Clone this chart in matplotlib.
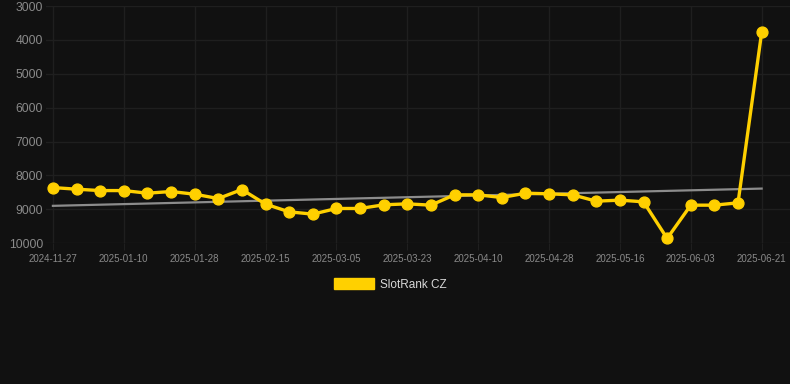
import numpy as np
import matplotlib
matplotlib.use("Agg")
import matplotlib.pyplot as plt

plt.rcParams["font.family"] = ["Liberation Sans", "DejaVu Sans"]

# weekly-ish snapshots (only every 3rd label is shown on the axis)
dates = ["2024-11-27", "2024-12-29", "2025-01-04", "2025-01-10", "2025-01-16",
         "2025-01-22", "2025-01-28", "2025-02-03", "2025-02-09", "2025-02-15",
         "2025-02-21", "2025-02-27", "2025-03-05", "2025-03-11", "2025-03-17",
         "2025-03-23", "2025-03-29", "2025-04-04", "2025-04-10", "2025-04-16",
         "2025-04-22", "2025-04-28", "2025-05-04", "2025-05-10", "2025-05-16",
         "2025-05-22", "2025-05-28", "2025-06-03", "2025-06-09", "2025-06-15",
         "2025-06-21"]
ranks = [8360, 8408, 8449, 8449, 8526, 8477, 8556, 8684, 8418, 8850,
         9077, 9145, 8978, 8978, 8870, 8841, 8880, 8575, 8575, 8654,
         8526, 8545, 8575, 8762, 8732, 8781, 9863, 8880, 8880, 8811,
         3777]
trend_ends = [8900, 8390]   # grey trend line, first and last date
series_name = "SlotRank CZ"

bg = "#111111"
grid_c = "#1f1f1f"
txt_c = "#8a8a8a"
yellow = "#ffd000"

fig = plt.figure(figsize=(7.9, 3.84), dpi=100, facecolor=bg)
ax = fig.add_axes([0.058, 0.367, 0.942, 0.617], facecolor=bg)

x = np.arange(len(ranks))
ax.plot(x, ranks, color=yellow, lw=2.4, marker="o", ms=7.8, zorder=3,
        label=series_name, clip_on=False)

ax.plot([x[0], x[-1]], trend_ends, color="#8c8c8c", lw=1.6, zorder=2)

ax.set_xlim(-0.3, 31.2)
ax.set_ylim(10000, 3000)
ax.set_yticks(range(3000, 10001, 1000))
ax.set_xticks(x[::3])
ax.set_xticklabels(dates[::3])

ax.grid(True, color=grid_c, lw=1)
for s in ax.spines.values():
    s.set_visible(False)
ax.tick_params(axis="y", colors=txt_c, labelsize=8.7, length=0, pad=2)
ax.tick_params(axis="x", colors=txt_c, labelsize=7, length=5, color=grid_c, pad=3)

leg = fig.legend(handles=[plt.Rectangle((0, 0), 1, 1, color=yellow)],
                 labels=[series_name], loc="center", bbox_to_anchor=(0.494, 0.26),
                 frameon=False, handlelength=3.4, handleheight=1.1,
                 handletextpad=0.5, fontsize=8.5, labelcolor="#d8d8d8")

fig.savefig("out.png", dpi=100, facecolor=bg)
